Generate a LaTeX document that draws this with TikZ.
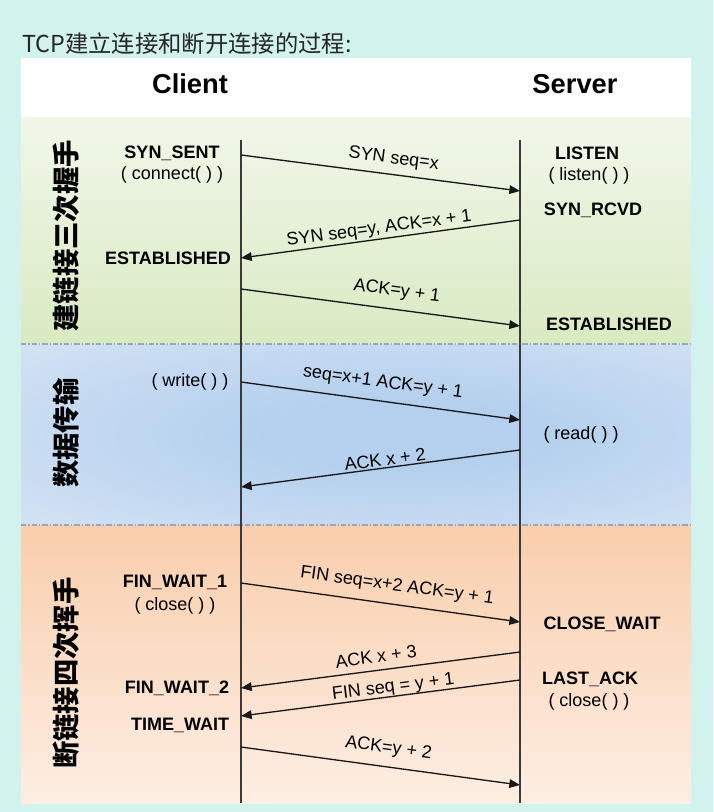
\documentclass[tikz,border=0pt]{standalone}
\usepackage{fontspec}
\setmainfont{Liberation Sans}
\newfontfamily\cjk{Noto Sans CJK SC}
\usetikzlibrary{arrows.meta}

\definecolor{pageBg}{HTML}{D2F2ED}
\definecolor{greenTop}{HTML}{F1F7EA}
\definecolor{greenBot}{HTML}{D9EAC2}
\definecolor{blueIn}{HTML}{B4D0EE}
\definecolor{blueOut}{HTML}{E0EAF6}
\definecolor{orangeTop}{HTML}{F9CEAC}
\definecolor{orangeBot}{HTML}{FDEEE3}
\definecolor{splitGray}{HTML}{9AA6B4}
\definecolor{lineGray}{HTML}{3A3A3A}

\pgfdeclareradialshading{blueGlow}{\pgfpoint{4bp}{0bp}}{%
  color(0bp)=(blueIn); color(10bp)=(blueIn); color(48bp)=(blueOut); color(80bp)=(blueOut)}

\tikzset{
  title/.style={font=\cjk\fontsize{17.5}{20}\selectfont, text=black!85, inner sep=0pt},
  party/.style={font=\bfseries\fontsize{20.5}{24}\selectfont, inner sep=0pt},
  phase/.style={font=\cjk\bfseries\fontsize{20.5}{24}\selectfont, rotate=90, inner sep=0pt},
  state/.style={font=\bfseries\fontsize{13.5}{16}\selectfont, inner sep=0pt},
  call/.style={font=\fontsize{13.5}{16}\selectfont, inner sep=0pt},
  lifeline/.style={draw=lineGray, line width=0.8pt},
  splitline/.style={draw=splitGray, line width=1.2pt, dash pattern=on 4pt off 1.5pt on 1pt off 1.5pt},
  msg/.style={draw=black!90, line width=1pt, -{Triangle[length=8pt,width=6.5pt]}},
  msgtext/.style={sloped, above, font=\fontsize{13.5}{16}\selectfont, inner sep=0.5pt},
}

\begin{document}
\begin{tikzpicture}[x=0.75pt,y=-0.75pt]
  \fill[pageBg] (0,0) rectangle (713,812);
  \useasboundingbox (0,0) rectangle (713,812);

  \node[title, anchor=west] (title) at (22,44) {TCP建立连接和断开连接的过程:};

  % panel and the three phases
  \fill[white] (21,58) rectangle (691,118);
  \shade[top color=greenTop, bottom color=greenBot] (21,118) rectangle (691,344);
  \shade[shading=blueGlow] (21,344) rectangle (691,525);
  \shade[top color=orangeTop, bottom color=orangeBot] (21,525) rectangle (691,803);
  \draw[splitline] (21,344) -- (691,344);
  \draw[splitline] (21,525) -- (691,525);

  \node[party] (client) at (190,84) {Client};
  \node[party] (server) at (575,84) {Server};

  \coordinate (clientTop) at (241,140);
  \coordinate (clientBot) at (241,803);
  \coordinate (serverTop) at (520,140);
  \coordinate (serverBot) at (520,803);
  \draw[lifeline] (clientTop) -- (clientBot);
  \draw[lifeline] (serverTop) -- (serverBot);

  \node[phase] (phaseOpen) at (66,236) {建链接三次握手};
  \node[phase] (phaseData) at (66,433) {数据传输};
  \node[phase] (phaseClose) at (66,673) {断链接四次挥手};

  % client side states
  \node[state] (synSent) at (172,153) {SYN\_SENT};
  \node[call] (connectCall) at (172,175) {( connect( ) )};
  \node[state] (estClient) at (168,258) {ESTABLISHED};
  \node[call] (writeCall) at (190,382) {( write( ) )};
  \node[state] (finWaitOne) at (175,582) {FIN\_WAIT\_1};
  \node[call] (closeClient) at (175,606) {( close( ) )};
  \node[state] (finWaitTwo) at (177,688) {FIN\_WAIT\_2};
  \node[state] (timeWait) at (180,725) {TIME\_WAIT};

  % server side states
  \node[state] (listen) at (587,153) {LISTEN};
  \node[call] (listenCall) at (589,176) {( listen( ) )};
  \node[state] (synRcvd) at (593,210) {SYN\_RCVD};
  \node[state] (estServer) at (609,324) {ESTABLISHED};
  \node[call] (readCall) at (581,435) {( read( ) )};
  \node[state] (closeWait) at (602,624) {CLOSE\_WAIT};
  \node[state] (lastAck) at (590,679) {LAST\_ACK};
  \node[call] (closeServer) at (589,702) {( close( ) )};

  % messages
  \coordinate (c1) at (241,155); \coordinate (s1) at (520,191);
  \coordinate (s2) at (520,220); \coordinate (c2) at (241,258);
  \coordinate (c3) at (241,289); \coordinate (s3) at (520,326);
  \coordinate (c4) at (241,382); \coordinate (s4) at (520,420);
  \coordinate (s5) at (520,450); \coordinate (c5) at (241,487);
  \coordinate (c6) at (241,583); \coordinate (s6) at (520,622);
  \coordinate (s7) at (520,652); \coordinate (c7) at (241,688);
  \coordinate (s8) at (520,680); \coordinate (c8) at (241,716);
  \coordinate (c9) at (241,747); \coordinate (s9) at (520,785);

  \draw[msg] (c1) -- node[msgtext, pos=.54, yshift=4.5pt] {SYN seq=x} (s1);
  \draw[msg] (s2) -- node[msgtext, pos=.50, yshift=0.5pt] {SYN seq=y, ACK=x + 1} (c2);
  \draw[msg] (c3) -- node[msgtext, pos=.55, yshift=6.5pt] {ACK=y + 1} (s3);
  \draw[msg] (c4) -- node[msgtext, pos=.50, yshift=6.5pt] {seq=x+1 ACK=y + 1} (s4);
  \draw[msg] (s5) -- node[msgtext, pos=.48, yshift=0.5pt] {ACK x + 2} (c5);
  \draw[msg] (c6) -- node[msgtext, pos=.55, yshift=6.5pt] {FIN seq=x+2 ACK=y + 1} (s6);
  \draw[msg] (s7) -- node[msgtext, pos=.51, yshift=4.5pt] {ACK x + 3} (c7);
  \draw[msg] (s8) -- node[msgtext, pos=.45, yshift=-0.5pt] {FIN seq = y + 1} (c8);
  \draw[msg] (c9) -- node[msgtext, pos=.52, yshift=6.5pt] {ACK=y + 2} (s9);
\end{tikzpicture}
\end{document}
